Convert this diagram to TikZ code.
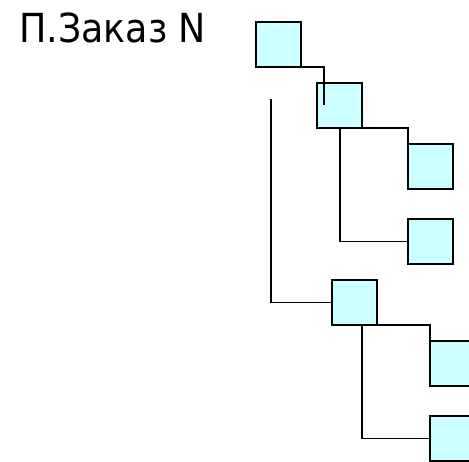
\documentclass[tikz,border=0pt]{standalone}
\usepackage{fontspec}
\setmainfont{DejaVu Sans}
\definecolor{boxfill}{HTML}{CCFFFF}
\begin{document}
\begin{tikzpicture}[x=1pt,y=-1pt,
  box/.style={draw, fill=boxfill, line width=1.8pt, minimum width=45pt, minimum height=45pt, inner sep=0pt, outer sep=0pt, anchor=north west},
  conn/.style={line width=1.4pt}]
\useasboundingbox (0,0) rectangle (469,461);
\node[anchor=base west, inner sep=0pt, font=\fontsize{40}{48}\selectfont] (title) at (19,42) {\scalebox{0.91}[1]{П.Заказ N}};
\node[box] (b1) at (256,22) {};
\node[box] (b2) at (317,83) {};
\node[box] (b3) at (408,144) {};
\node[box] (b4) at (408,219) {};
\node[box] (b5) at (332,280) {};
\node[box] (b6) at (430,341) {};
\node[box] (b7) at (430,416) {};
\coordinate (t2) at (324,105);
\coordinate (top) at (271,99);
\draw[conn] (b1.south east) -| (t2);
\draw[conn] (b2.south east) -| (b3.north west);
\draw[conn] (b2.south -| 340,0) |- (b4.west);
\draw[conn] (top) |- (b5.west);
\draw[conn] (b5.south east) -| (b6.north west);
\draw[conn] (b5.south -| 362,0) |- (b7.west);
\end{tikzpicture}
\end{document}
